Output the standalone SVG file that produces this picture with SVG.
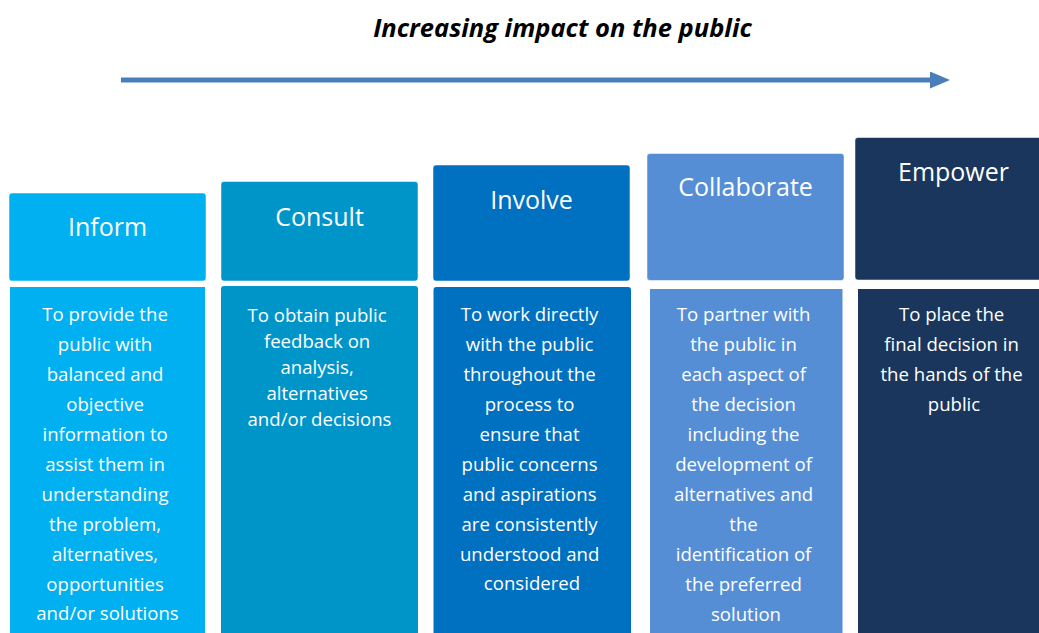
<svg xmlns="http://www.w3.org/2000/svg" width="1039" height="633" viewBox="0 0 1039 633">
<style>
.hd{stroke:#ffffff;stroke-opacity:0.5;stroke-width:1}
.ht{font-family:"Open Sans","Liberation Sans",sans-serif;font-size:25px;fill:#ffffff;text-anchor:middle}
.bt{font-family:"Open Sans","Liberation Sans",sans-serif;font-size:18.6px;fill:#ffffff;text-anchor:middle}
.title{font-family:"Open Sans","Liberation Sans",sans-serif;font-size:25.5px;font-weight:bold;font-style:italic;fill:#000000;text-anchor:middle}
</style>
<defs>
<marker id="ah" markerWidth="4" markerHeight="3.4" refX="0" refY="1.7" orient="auto" markerUnits="strokeWidth">
<path d="M0,0 L4,1.7 L0,3.4 Z" fill="#4a7ebb"/>
</marker>
</defs>
<rect width="1039" height="633" fill="#ffffff"/>
<text class="title" x="562.5" y="37">Increasing impact on the public</text>
<g id="connectors">
<line x1="121" y1="80" x2="930" y2="80" stroke="#4a7ebb" stroke-width="5" marker-end="url(#ah)"/>
</g>
<g id="inform">
<rect class="hd" x="9" y="193" width="197" height="88" rx="3" fill="#00b0f0"/>
<text class="ht" x="107.5" y="236">Inform</text>
<rect x="10" y="287" width="195" height="360" fill="#00b0f0"/>
<text class="bt" x="107.5">
<tspan x="107.5" y="321">To provide the</tspan>
<tspan x="107.5" y="351">public with</tspan>
<tspan x="107.5" y="381">balanced and</tspan>
<tspan x="107.5" y="411">objective</tspan>
<tspan x="107.5" y="441">information to</tspan>
<tspan x="107.5" y="471">assist them in</tspan>
<tspan x="107.5" y="501">understanding</tspan>
<tspan x="107.5" y="531">the problem,</tspan>
<tspan x="107.5" y="561">alternatives,</tspan>
<tspan x="107.5" y="591">opportunities</tspan>
<tspan x="107.5" y="620">and/or solutions</tspan>
</text>
</g>
<g id="consult">
<rect class="hd" x="221" y="181.5" width="197" height="99.5" rx="3" fill="#0095c9"/>
<text class="ht" x="319.5" y="225.5">Consult</text>
<rect x="221" y="286" width="197" height="360" rx="3" fill="#0095c9"/>
<text class="bt">
<tspan x="319.5" y="322">To obtain public</tspan>
<tspan x="319.5" y="348">feedback on</tspan>
<tspan x="319.5" y="374">analysis,</tspan>
<tspan x="319.5" y="400">alternatives</tspan>
<tspan x="319.5" y="426">and/or decisions</tspan>
</text>
</g>
<g id="involve">
<rect class="hd" x="433" y="165" width="197" height="116" rx="3" fill="#0070c0"/>
<text class="ht" x="531.5" y="209">Involve</text>
<rect x="433.5" y="287" width="197.5" height="360" rx="3" fill="#0070c0"/>
<text class="bt">
<tspan x="532" y="321">To work directly</tspan>
<tspan x="532" y="351">with the public</tspan>
<tspan x="532" y="381">throughout the</tspan>
<tspan x="532" y="411">process to</tspan>
<tspan x="532" y="441">ensure that</tspan>
<tspan x="532" y="471">public concerns</tspan>
<tspan x="532" y="501">and aspirations</tspan>
<tspan x="532" y="531">are consistently</tspan>
<tspan x="532" y="561">understood and</tspan>
<tspan x="532" y="590">considered</tspan>
</text>
</g>
<g id="collaborate">
<rect class="hd" x="647" y="153.5" width="197" height="127" rx="3" fill="#558ed5"/>
<text class="ht" x="745.5" y="196">Collaborate</text>
<rect x="650" y="289" width="192.5" height="360" fill="#558ed5"/>
<text class="bt">
<tspan x="746" y="321">To partner with</tspan>
<tspan x="746" y="351">the public in</tspan>
<tspan x="746" y="381">each aspect of</tspan>
<tspan x="746" y="411">the decision</tspan>
<tspan x="746" y="441">including the</tspan>
<tspan x="746" y="471">development of</tspan>
<tspan x="746" y="501">alternatives and</tspan>
<tspan x="746" y="531">the</tspan>
<tspan x="746" y="561">identification of</tspan>
<tspan x="746" y="591">the preferred</tspan>
<tspan x="746" y="621">solution</tspan>
</text>
</g>
<g id="empower">
<rect class="hd" x="855" y="137.5" width="200" height="142.5" rx="3" fill="#1a365d"/>
<text class="ht" x="953.5" y="180.5">Empower</text>
<rect x="858" y="289" width="200" height="360" fill="#1a365d"/>
<text class="bt">
<tspan x="954" y="321">To place the</tspan>
<tspan x="954" y="351">final decision in</tspan>
<tspan x="954" y="381">the hands of the</tspan>
<tspan x="954" y="411">public</tspan>
</text>
</g>
</svg>
